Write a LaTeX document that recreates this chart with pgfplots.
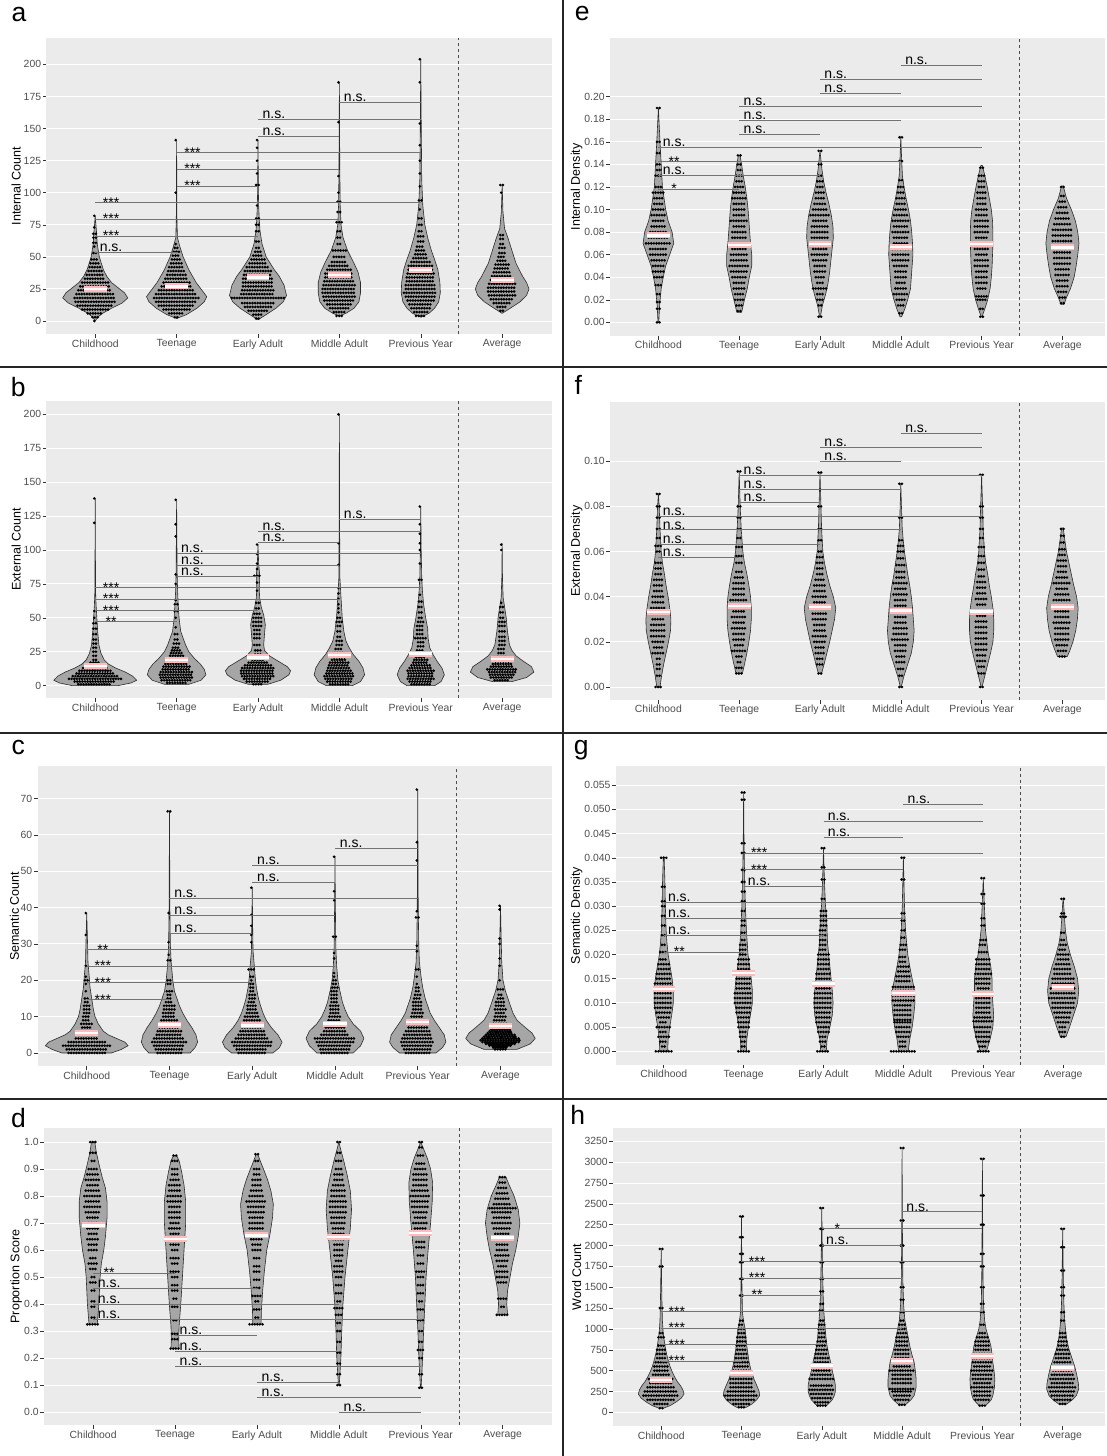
\documentclass[border=0pt]{standalone}
\usepackage{fontspec}
\setmainfont{Liberation Sans}
\usepackage{pgfplots}
\pgfplotsset{compat=1.18}
\definecolor{panelbg}{RGB}{235,235,235}
\definecolor{vfill}{RGB}{166,166,166}
\definecolor{vline}{RGB}{45,45,45}
\definecolor{axgray}{RGB}{77,77,77}
\definecolor{tickgray}{RGB}{51,51,51}
\definecolor{brkc}{RGB}{115,115,115}
\definecolor{meanpink}{RGB}{255,188,188}
\newcommand\tickfont{\fontsize{10.4}{12}\selectfont}
\newcommand\labfont{\fontsize{12.5}{15}\selectfont}
\pgfplotsset{
 gg/.style={scale only axis, anchor=north west, enlargelimits=false,
  axis background/.style={fill=panelbg},
  axis line style={draw=none},
  tick align=outside, major tick length=3.6pt,
  tick style={color=tickgray, line width=0.5pt},
  tick pos=left,
  ymajorgrids, major grid style={white, line width=1.0pt},
  xtick={1,2,3,4,5,6},
  xticklabels={Childhood,Teenage,Early Adult,Middle Adult,Previous Year,Average},
  xticklabel style={font=\tickfont, text=axgray, inner sep=1.5pt},
  yticklabel style={font=\tickfont, text=axgray, inner sep=1.5pt},
  scaled y ticks=false,
  /pgf/number format/assume math mode=true,
  /pgf/number format/1000 sep={},
  every axis y label/.style={rotate=90, anchor=center, font=\labfont, at={(axis description cs:#1,0.5)}}},
 brk/.style={draw=brkc, line width=0.9pt, unbounded coords=jump, forget plot},
 dashln/.style={draw=axgray, line width=0.6pt, dash pattern=on 3pt off 3pt, forget plot},
 vshape/.style={fill=vfill, draw=vline, line width=0.6pt, line join=round, forget plot, mark=none},
 vdots/.style={draw=black, line width=2.9pt, line cap=round, dash pattern=on 0pt off 2.6pt, unbounded coords=jump, forget plot, mark=none},
 vmeanp/.style={draw=meanpink, line width=6pt, forget plot, mark=none},
 vmeanw/.style={draw=white, line width=2.4pt, forget plot, mark=none},
}
\tikzset{nslab/.style={anchor=base, inner sep=0pt, font=\fontsize{14}{16}\selectfont, yshift=0.8pt},
 stlab/.style={anchor=base, inner sep=0pt, font=\fontsize{14}{16}\selectfont, yshift=-4.5pt},
 plab/.style={anchor=base west, inner sep=0pt, font=\fontsize{26.5}{30}\selectfont}}
\newcommand\ns[2]{\node[nslab] at (axis cs:#1,#2) {n.s.};}
\newcommand\st[3]{\node[stlab] at (axis cs:#1,#2) {#3};}
\def\dotscale{1}
% #1 centre, #2 profile y/halfwidth, #3 dot rows y/halfwidth, #4 mean
\newcommand\vio[4]{%
 \gdef\VUp{}\gdef\VDn{}\gdef\VFirst{}%
 \foreach \yy/\ww in {#2}{%
   \pgfmathsetmacro\xr{#1+\ww}\pgfmathsetmacro\xl{#1-\ww}%
   \ifx\VFirst\empty\xdef\VFirst{(\xr,\yy)}\fi
   \xdef\VUp{\VUp(\xr,\yy)}%
   \xdef\VDn{(\xl,\yy)\VDn}%
 }%
 \gdef\VDots{}%
 \foreach \yy/\ee in {#3}{%
   \pgfmathsetmacro\xr{#1+\dotscale*\ee}\pgfmathsetmacro\xl{#1-\dotscale*\ee}%
   \xdef\VDots{\VDots(\xl,\yy)(\xr,\yy)(nan,nan)}%
 }%
 \pgfmathsetmacro\xr{#1+0.14}\pgfmathsetmacro\xl{#1-0.14}%
 \edef\VTmp{%
  \noexpand\addplot[vshape] coordinates {\VUp\VDn\VFirst};
  \noexpand\addplot[vdots] coordinates {\VDots};
  \noexpand\addplot[vmeanp] coordinates {(\xl,#4)(\xr,#4)};
  \noexpand\addplot[vmeanw] coordinates {(\xl,#4)(\xr,#4)};
 }\VTmp
}
\begin{document}
\begin{tikzpicture}
\useasboundingbox (0,0) rectangle (1107pt,-1456pt);
% ================= a
\begin{axis}[gg=-0.060, at={(46.4pt,-37.7pt)}, width=505.4pt, height=296.7pt,
 xmin=0.4, xmax=6.61, ymin=-10.4, ymax=220.8, ytick={0,25,...,200}, ylabel={Internal Count}]
\gdef\dotscale{1.15}
\addplot[dashln] coordinates {(5.46,-10.4) (5.46,220.8)};
\vio{1}{0/0,3/0.03,6/0.09,10/0.2,14/0.33,18/0.40,22/0.36,26/0.28,30/0.2,35/0.14,40/0.1,50/0.05,60/0.025,70/0.015,82/0}{0/0.01,3/0.03,6/0.08,9/0.14,12/0.19,15/0.21,18/0.22,21/0.2,24/0.18,27/0.16,30/0.14,33/0.11,36/0.09,39/0.07,42/0.06,45/0.05,48/0.04,53/0.02,58/0.01,61/0.02,65/0.02,68/0.02,73/0.01,82/0.01}{25}
\vio{2}{2/0,5/0.12,10/0.25,15/0.34,19/0.37,25/0.3,30/0.24,40/0.15,50/0.08,58/0.04,65/0.01,80/0.004,141/0}{3/0.02,6/0.08,9/0.14,12/0.19,15/0.22,18/0.24,21/0.22,24/0.19,27/0.16,30/0.14,33/0.12,36/0.1,39/0.09,42/0.08,45/0.06,48/0.05,51/0.04,54/0.03,57/0.02,60/0.01,100/0.01,141/0.01}{27}
\vio{3}{1/0,5/0.1,10/0.22,15/0.31,20/0.35,28/0.32,35/0.26,40/0.2,50/0.1,60/0.05,70/0.025,80/0.015,90/0.008,100/0.005,141/0}{2/0.02,5/0.05,8/0.1,11/0.14,14/0.17,18/0.28,21/0.18,24/0.17,27/0.16,30/0.16,33/0.16,36/0.15,39/0.14,42/0.12,45/0.09,48/0.07,51/0.05,54/0.03,57/0.02,62/0.02,70/0.02,75/0.02,80/0.02,90/0.01,106/0.02,115/0.01,125/0.01,135/0.01,141/0.01}{34}
\vio{4}{4/0,6/0.08,10/0.18,15/0.24,22/0.26,30/0.26,38/0.23,45/0.18,55/0.1,65/0.045,75/0.02,90/0.01,120/0.005,186/0}{4/0.03,7/0.06,10/0.1,13/0.13,16/0.16,19/0.17,22/0.18,25/0.18,28/0.17,31/0.16,34/0.15,37/0.15,40/0.13,43/0.11,46/0.08,50/0.06,55/0.07,60/0.02,65/0.02,70/0.02,77/0.03,85/0.02,93/0.02,100/0.01,113/0.01,155/0.01,186/0.01}{36}
\vio{5}{3/0,6/0.1,10/0.17,15/0.22,22/0.24,30/0.235,40/0.21,48/0.17,55/0.13,65/0.085,75/0.05,90/0.025,110/0.012,150/0.006,204/0}{4/0.05,7/0.07,10/0.1,13/0.12,16/0.14,19/0.16,22/0.18,25/0.16,28/0.16,31/0.15,34/0.15,37/0.14,40/0.13,43/0.13,46/0.1,49/0.08,52/0.06,55/0.05,58/0.04,62/0.03,66/0.03,70/0.02,75/0.02,80/0.02,87/0.01,94/0.02,105/0.01,115/0.01,125/0.01,137/0.01,154/0.01,186/0.01,204/0.01}{40}
\vio{6}{6/0,10/0.1,15/0.22,20/0.3,25/0.33,30/0.3,35/0.25,45/0.17,55/0.12,65/0.07,72/0.03,85/0.01,106/0}{8/0.02,11/0.05,14/0.09,17/0.12,20/0.14,23/0.15,26/0.15,29/0.14,32/0.12,35/0.11,38/0.09,41/0.08,44/0.07,47/0.05,50/0.04,53/0.03,57/0.03,60/0.02,64/0.02,67/0.02,100/0.01,106/0.02}{32}
\addplot[brk] coordinates {(1,53.2)(2,53.2)(nan,nan)(1,66.2)(3,66.2)(nan,nan)(1,79.2)(4,79.2)(nan,nan)(1,92.2)(5,92.2)(nan,nan)(2,105.2)(3,105.2)(nan,nan)(2,118.2)(4,118.2)(nan,nan)(2,131.2)(5,131.2)(nan,nan)(3,144.2)(4,144.2)(nan,nan)(3,157.1)(5,157.1)(nan,nan)(4,170.1)(5,170.1)};
\ns{1.195}{53.2}\st{1.195}{66.2}{***}\st{1.195}{79.2}{***}\st{1.195}{92.2}{***}
\st{2.195}{105.2}{***}\st{2.195}{118.2}{***}\st{2.195}{131.2}{***}
\ns{3.195}{144.2}\ns{3.195}{157.1}\ns{4.195}{170.1}
\end{axis}
% ================= b
\begin{axis}[gg=-0.060, at={(46.4pt,-400.7pt)}, width=505.4pt, height=297.6pt,
 xmin=0.4, xmax=6.61, ymin=-9.33, ymax=210.07, ytick={0,25,...,200}, ylabel={External Count}]
\gdef\dotscale{1.15}
\addplot[dashln] coordinates {(5.46,-9.33) (5.46,210.07)};
\vio{1}{0/0.28,2/0.44,4/0.51,7/0.46,10/0.37,13/0.25,16/0.16,19/0.11,24/0.07,30/0.045,40/0.03,50/0.02,60/0.01,70/0.004,138/0}{1/0.18,3/0.22,5/0.28,7/0.24,9/0.2,11/0.17,13/0.13,15/0.09,17/0.05,19/0.02,22/0.02,25/0.02,28/0.02,31/0.02,34/0.02,38/0.02,42/0.02,46/0.02,50/0.01,55/0.01,120/0.01,138/0.01}{14.5}
\vio{2}{1/0.15,4/0.3,8/0.36,12/0.34,16/0.29,20/0.22,25/0.15,30/0.11,35/0.08,40/0.05,50/0.03,60/0.02,70/0.012,85/0.006,137/0}{2/0.1,4/0.16,6/0.17,8/0.18,10/0.17,12/0.15,14/0.14,16/0.12,18/0.1,20/0.08,22/0.07,24/0.06,26/0.05,28/0.04,31/0.03,34/0.02,38/0.02,43/0.01,50/0.01,55/0.02,60/0.02,63/0.01,75/0.01,82/0.01,110/0.01,119/0.01,137/0.01}{18.7}
\vio{3}{1/0.12,4/0.28,8/0.38,11/0.4,14/0.36,18/0.25,22/0.14,26/0.08,30/0.07,38/0.08,45/0.09,52/0.07,58/0.04,65/0.02,72/0.015,78/0.02,82/0.02,90/0.008,104/0}{1/0.05,3/0.12,5/0.15,7/0.17,9/0.18,11/0.18,13/0.17,15/0.14,17/0.1,19/0.06,21/0.04,23/0.03,26/0.03,30/0.04,35/0.04,38/0.04,41/0.04,44/0.05,47/0.05,50/0.05,53/0.04,57/0.02,61/0.02,70/0.01,76/0.01,81/0.04,86/0.01,90/0.01,97/0.01,104/0.01}{20.9}
\vio{4}{0/0.16,3/0.26,8/0.31,13/0.29,18/0.24,23/0.17,28/0.12,33/0.08,40/0.055,50/0.035,60/0.025,70/0.015,80/0.006,120/0.003,200/0}{1/0.1,3/0.13,5/0.15,7/0.16,9/0.14,11/0.13,13/0.12,15/0.11,17/0.1,19/0.08,21/0.06,24/0.05,27/0.04,30/0.03,33/0.03,36/0.02,40/0.02,44/0.02,47/0.03,50/0.02,54/0.01,57/0.01,60/0.01,64/0.01,68/0.01,72/0.01,89/0.01,105/0.01,200/0.01}{22.6}
\vio{5}{0/0.17,3/0.25,8/0.29,13/0.26,18/0.2,23/0.15,28/0.11,35/0.09,42/0.085,50/0.06,60/0.035,70/0.02,80/0.012,100/0.005,132/0}{1/0.1,3/0.12,5/0.14,7/0.13,9/0.13,11/0.14,13/0.12,15/0.1,17/0.08,19/0.07,21/0.05,23/0.04,26/0.04,29/0.03,32/0.03,35/0.06,38/0.04,41/0.04,44/0.04,47/0.03,50/0.02,54/0.02,58/0.02,62/0.02,67/0.01,78/0.02,90/0.01,100/0.01,105/0.01,112/0.01,119/0.01,132/0.01}{23.6}
\vio{6}{3/0.12,6/0.3,10/0.39,14/0.36,18/0.26,22/0.17,26/0.12,30/0.09,40/0.065,50/0.05,58/0.03,65/0.012,80/0.004,105/0}{4/0.08,6/0.12,8/0.13,10/0.14,12/0.16,14/0.12,16/0.1,18/0.07,21/0.05,24/0.04,27/0.04,30/0.03,33/0.03,36/0.03,40/0.03,44/0.03,47/0.03,50/0.02,54/0.02,58/0.02,61/0.01,100/0.01,104/0.01}{19.7}
\addplot[brk] coordinates {(1,47.2)(2,47.2)(nan,nan)(1,55.3)(3,55.3)(nan,nan)(1,63.6)(4,63.6)(nan,nan)(1,72.2)(5,72.2)(nan,nan)(2,80.8)(3,80.8)(nan,nan)(2,88.7)(4,88.7)(nan,nan)(2,97.3)(5,97.3)(nan,nan)(3,105.7)(4,105.7)(nan,nan)(3,114)(5,114)(nan,nan)(4,122.6)(5,122.6)};
\st{1.195}{47.2}{**}\st{1.195}{55.3}{***}\st{1.195}{63.6}{***}\st{1.195}{72.2}{***}
\ns{2.195}{80.8}\ns{2.195}{88.7}\ns{2.195}{97.3}
\ns{3.195}{105.7}\ns{3.195}{114}\ns{4.195}{122.6}
\end{axis}
% ================= c
\begin{axis}[gg=-0.045, at={(37.5pt,-766.3pt)}, width=514.3pt, height=300pt,
 xmin=0.405, xmax=6.62, ymin=-3.67, ymax=78.9, ytick={0,10,...,70}, ylabel={Semantic Count}]
\gdef\dotscale{1.1}
\addplot[dashln] coordinates {(5.46,-3.67) (5.46,78.9)};
\vio{1}{0/0.3,1/0.42,2/0.5,3/0.46,4/0.36,5/0.26,6/0.2,8/0.14,10/0.1,12/0.08,15/0.06,18/0.04,21/0.03,25/0.015,30/0.01,38.5/0}{0/0.2,1/0.22,2/0.26,3/0.2,4/0.12,5/0.08,6/0.06,7/0.05,8/0.06,9/0.04,10/0.04,11/0.03,12/0.03,13/0.03,14/0.02,15/0.02,17/0.01,19/0.01,20/0.02,21/0.01,24/0.01,32.5/0.01,38.5/0.01}{5.5}
\vio{2}{0/0.25,1.5/0.31,3/0.34,5/0.32,7/0.27,9/0.21,11/0.16,13/0.12,15/0.09,17/0.06,20/0.04,25/0.02,30/0.01,40/0.005,66.5/0}{0/0.13,1/0.15,2/0.17,3/0.19,4/0.17,5/0.14,6/0.13,7/0.11,8/0.1,9/0.09,10/0.07,11/0.07,12/0.06,13/0.06,14/0.04,15/0.02,16/0.02,17/0.03,19/0.02,20/0.02,25.5/0.02,27/0.01,30.5/0.01,38.5/0.01,66.5/0.02}{7.8}
\vio{3}{0/0.25,1.5/0.33,3/0.36,5/0.31,7/0.23,9/0.17,11/0.13,13/0.1,15/0.075,18/0.05,21/0.035,24/0.025,28/0.01,35/0.005,45.5/0}{0/0.15,1/0.17,2/0.2,3/0.22,4/0.18,5/0.15,6/0.13,7/0.11,8/0.1,9/0.09,10/0.08,11/0.06,12/0.05,13/0.05,14/0.04,15/0.03,16/0.03,17/0.02,18/0.02,19/0.02,20/0.01,21/0.02,23/0.04,30.5/0.01,32.5/0.01,35/0.01,38/0.01,45.5/0.01}{7.6}
\vio{4}{0/0.22,2/0.31,4/0.35,6/0.31,8/0.22,10/0.16,12/0.12,14/0.09,17/0.06,20/0.035,24/0.02,28/0.012,33/0.008,42/0.004,54/0}{0/0.15,1/0.16,2/0.18,3/0.2,4/0.22,5/0.15,6/0.12,7/0.1,8/0.08,9/0.07,10/0.06,11/0.05,12/0.05,13/0.05,14/0.04,15/0.04,16/0.04,17/0.04,18/0.03,19/0.02,20/0.02,21/0.01,22/0.01,26/0.01,27.5/0.01,32/0.02,42/0.01,44.5/0.01,54/0.01}{8.1}
\vio{5}{0/0.22,1.5/0.3,3/0.34,5/0.32,7/0.26,9/0.2,11/0.15,13/0.12,15/0.09,18/0.06,21/0.04,25/0.02,30/0.012,40/0.006,55/0.003,72.5/0}{0/0.13,1/0.15,2/0.17,3/0.18,4/0.17,5/0.15,6/0.13,7/0.1,8/0.09,9/0.08,10/0.07,11/0.06,12/0.05,13/0.05,14/0.05,15/0.04,16/0.03,17/0.02,18/0.02,19/0.01,21/0.01,23/0.02,28/0.01,29.5/0.01,37.3/0.02,39/0.01,53/0.01,58/0.01,72.5/0.01}{8.6}
\vio{6}{1/0.2,2.5/0.36,4/0.42,5.5/0.38,7/0.3,9/0.2,11/0.15,13/0.12,15/0.09,17/0.06,20/0.03,25/0.015,30/0.01,35/0.005,40.5/0}{1/0.06,1.5/0.08,2/0.12,2.5/0.16,3/0.2,3.5/0.22,4/0.2,4.5/0.18,5/0.16,5.5/0.14,6/0.12,6.5/0.1,7/0.09,8/0.08,9/0.07,10/0.06,11/0.05,12/0.06,13/0.05,14/0.05,15/0.03,16/0.02,17.5/0.03,20/0.01,24/0.01,26/0.01,30/0.01,31.5/0.01,39.5/0.01,40.5/0.01}{7.5}
\addplot[brk] coordinates {(1,14.7)(2,14.7)(nan,nan)(1,19.3)(3,19.3)(nan,nan)(1,23.9)(4,23.9)(nan,nan)(1,28.4)(5,28.4)(nan,nan)(2,33)(3,33)(nan,nan)(2,37.8)(4,37.8)(nan,nan)(2,42.5)(5,42.5)(nan,nan)(3,47)(4,47)(nan,nan)(3,51.7)(5,51.7)(nan,nan)(4,56.2)(5,56.2)};
\st{1.195}{14.7}{***}\st{1.195}{19.3}{***}\st{1.195}{23.9}{***}\st{1.195}{28.4}{**}
\ns{2.195}{33}\ns{2.195}{37.8}\ns{2.195}{42.5}
\ns{3.195}{47}\ns{3.195}{51.7}\ns{4.195}{56.2}
\end{axis}
% ================= d
\begin{axis}[gg=-0.055, at={(44pt,-1127.7pt)}, width=507.8pt, height=297.6pt,
 xmin=0.4, xmax=6.6, ymin=-0.049, ymax=1.053, ytick={0,0.1,0.2,0.3,0.4,0.5,0.6,0.7,0.8,0.9,1},
 yticklabel style={/pgf/number format/.cd, fixed, fixed zerofill, precision=1}, ylabel={Proportion Score}]
\gdef\dotscale{1.8}
\addplot[dashln] coordinates {(5.466,-0.049) (5.466,1.053)};
\vio{1}{0.325/0.05,0.4/0.07,0.5/0.085,0.55/0.1,0.6/0.13,0.65/0.15,0.72/0.17,0.78/0.17,0.83/0.15,0.87/0.11,0.92/0.07,0.96/0.04,1.0/0.02}{0.325/0.04,0.35/0.01,0.39/0.01,0.41/0.01,0.45/0.01,0.48/0.02,0.5/0.01,0.53/0.02,0.55/0.03,0.57/0.02,0.6/0.03,0.62/0.03,0.64/0.04,0.66/0.03,0.68/0.04,0.7/0.03,0.72/0.04,0.74/0.05,0.76/0.06,0.78/0.05,0.8/0.06,0.82/0.05,0.84/0.04,0.86/0.05,0.88/0.04,0.9/0.03,0.93/0.01,0.96/0.02,1.0/0.02}{0.691}
\vio{2}{0.235/0.05,0.27/0.045,0.32/0.05,0.4/0.07,0.5/0.09,0.6/0.11,0.7/0.13,0.78/0.13,0.84/0.11,0.89/0.08,0.93/0.05,0.95/0.02}{0.235/0.03,0.27/0.02,0.29/0.02,0.34/0.01,0.39/0.02,0.42/0.01,0.45/0.02,0.47/0.02,0.5/0.02,0.52/0.03,0.55/0.02,0.57/0.03,0.6/0.02,0.62/0.03,0.64/0.03,0.66/0.03,0.68/0.04,0.7/0.03,0.72/0.04,0.74/0.04,0.76/0.04,0.78/0.05,0.8/0.05,0.82/0.04,0.84/0.04,0.86/0.03,0.88/0.02,0.9/0.02,0.93/0.02,0.95/0.01}{0.642}
\vio{3}{0.325/0.05,0.38/0.055,0.45/0.07,0.52/0.09,0.6/0.12,0.66/0.16,0.72/0.19,0.77/0.2,0.82/0.17,0.86/0.13,0.9/0.08,0.93/0.04,0.955/0.01}{0.325/0.05,0.35/0.01,0.38/0.02,0.41/0.01,0.43/0.03,0.46/0.02,0.49/0.02,0.52/0.02,0.54/0.02,0.57/0.02,0.6/0.03,0.62/0.03,0.64/0.04,0.66/0.04,0.68/0.05,0.7/0.05,0.72/0.05,0.74/0.06,0.76/0.06,0.78/0.07,0.8/0.05,0.82/0.04,0.84/0.03,0.86/0.03,0.88/0.02,0.9/0.02,0.93/0.01,0.955/0.01}{0.654}
\vio{4}{0.1/0.005,0.15/0.015,0.2/0.025,0.3/0.035,0.4/0.05,0.5/0.075,0.6/0.11,0.68/0.14,0.75/0.155,0.82/0.14,0.88/0.1,0.93/0.06,0.97/0.025,1.0/0}{0.1/0.01,0.14/0.01,0.18/0.01,0.22/0.01,0.26/0.01,0.3/0.01,0.33/0.01,0.36/0.02,0.385/0.03,0.41/0.01,0.44/0.02,0.47/0.02,0.5/0.02,0.52/0.03,0.54/0.03,0.56/0.02,0.58/0.03,0.6/0.03,0.62/0.03,0.64/0.04,0.66/0.04,0.68/0.04,0.7/0.05,0.72/0.05,0.74/0.06,0.76/0.06,0.78/0.06,0.8/0.05,0.82/0.05,0.84/0.04,0.86/0.03,0.88/0.03,0.9/0.02,0.93/0.02,0.96/0.01,1.0/0.01}{0.648}
\vio{5}{0.09/0.004,0.15/0.015,0.22/0.025,0.3/0.035,0.4/0.05,0.5/0.065,0.6/0.09,0.7/0.12,0.78/0.14,0.85/0.145,0.9/0.12,0.94/0.08,0.97/0.04,1.0/0}{0.09/0.01,0.14/0.01,0.2/0.01,0.23/0.02,0.26/0.01,0.3/0.01,0.34/0.02,0.38/0.02,0.41/0.01,0.44/0.02,0.47/0.02,0.5/0.02,0.52/0.03,0.55/0.02,0.58/0.02,0.61/0.03,0.63/0.03,0.66/0.04,0.68/0.04,0.7/0.05,0.72/0.04,0.74/0.05,0.76/0.06,0.78/0.06,0.8/0.07,0.82/0.06,0.84/0.05,0.86/0.05,0.88/0.05,0.9/0.04,0.92/0.03,0.95/0.02,0.98/0.01,1.0/0.01}{0.664}
\vio{6}{0.36/0.06,0.4/0.05,0.45/0.06,0.5/0.09,0.55/0.12,0.6/0.16,0.65/0.19,0.7/0.21,0.75/0.19,0.8/0.14,0.84/0.08,0.87/0.04}{0.36/0.04,0.39/0.01,0.42/0.03,0.48/0.03,0.5/0.04,0.52/0.04,0.54/0.03,0.56/0.04,0.58/0.05,0.6/0.04,0.62/0.04,0.64/0.05,0.66/0.05,0.68/0.06,0.7/0.07,0.72/0.06,0.74/0.07,0.755/0.09,0.77/0.06,0.79/0.05,0.81/0.04,0.83/0.03,0.85/0.02,0.87/0.02}{0.646}
\addplot[brk] coordinates {(1,0.515)(2,0.515)(nan,nan)(1,0.457)(3,0.457)(nan,nan)(1,0.399)(4,0.399)(nan,nan)(1,0.342)(5,0.342)(nan,nan)(2,0.284)(3,0.284)(nan,nan)(2,0.226)(4,0.226)(nan,nan)(2,0.169)(5,0.169)(nan,nan)(3,0.111)(4,0.111)(nan,nan)(3,0.056)(5,0.056)(nan,nan)(4,0)(5,0)};
\st{1.195}{0.515}{**}\ns{1.195}{0.457}\ns{1.195}{0.399}\ns{1.195}{0.342}
\ns{2.195}{0.284}\ns{2.195}{0.226}\ns{2.195}{0.169}
\ns{3.195}{0.111}\ns{3.195}{0.056}\ns{4.195}{0}
\end{axis}
% ================= e
\begin{axis}[gg=-0.067, at={(609.9pt,-37.7pt)}, width=495.1pt, height=298.3pt,
 xmin=0.4, xmax=6.527, ymin=-0.0121, ymax=0.2523, ytick={0,0.02,0.04,0.06,0.08,0.1,0.12,0.14,0.16,0.18,0.2},
 yticklabel style={/pgf/number format/.cd, fixed, fixed zerofill, precision=2}, ylabel={Internal Density}]
\gdef\dotscale{1.7}
\addplot[dashln] coordinates {(5.464,-0.0121) (5.464,0.2523)};
\vio{1}{0/0.005,0.015/0.015,0.03/0.035,0.04/0.06,0.05/0.09,0.06/0.14,0.07/0.19,0.08/0.17,0.09/0.12,0.1/0.09,0.11/0.07,0.12/0.05,0.14/0.035,0.16/0.02,0.19/0}{0/0.01,0.012/0.01,0.018/0.01,0.025/0.01,0.033/0.02,0.04/0.03,0.045/0.04,0.05/0.04,0.055/0.05,0.06/0.06,0.065/0.06,0.07/0.09,0.075/0.07,0.08/0.06,0.085/0.05,0.09/0.04,0.095/0.05,0.1/0.04,0.105/0.03,0.11/0.03,0.115/0.04,0.12/0.02,0.13/0.02,0.135/0.01,0.14/0.01,0.15/0.01,0.16/0.01,0.19/0.01}{0.0771}
\vio{2}{0.009/0.03,0.02/0.065,0.03/0.1,0.04/0.125,0.05/0.155,0.06/0.155,0.07/0.14,0.08/0.13,0.09/0.12,0.1/0.11,0.11/0.095,0.12/0.075,0.13/0.05,0.14/0.03,0.148/0.01}{0.01/0.01,0.015/0.02,0.02/0.03,0.025/0.03,0.03/0.04,0.035/0.04,0.04/0.05,0.045/0.06,0.05/0.07,0.055/0.06,0.06/0.06,0.065/0.05,0.07/0.06,0.075/0.05,0.08/0.05,0.085/0.04,0.09/0.06,0.095/0.04,0.1/0.04,0.105/0.04,0.11/0.05,0.115/0.04,0.12/0.03,0.125/0.02,0.13/0.02,0.135/0.01,0.14/0.01,0.148/0.01}{0.0685}
\vio{3}{0.005/0.005,0.015/0.03,0.025/0.07,0.035/0.1,0.045/0.12,0.055/0.135,0.065/0.15,0.075/0.165,0.085/0.16,0.095/0.14,0.105/0.11,0.115/0.075,0.125/0.045,0.135/0.025,0.152/0}{0.005/0.01,0.015/0.01,0.02/0.02,0.025/0.02,0.03/0.05,0.035/0.02,0.04/0.03,0.045/0.04,0.05/0.04,0.055/0.05,0.06/0.06,0.065/0.05,0.07/0.05,0.075/0.06,0.08/0.06,0.085/0.06,0.09/0.05,0.095/0.07,0.1/0.05,0.105/0.04,0.11/0.03,0.115/0.03,0.12/0.02,0.125/0.02,0.13/0.01,0.14/0.01,0.152/0.01}{0.0697}
\vio{4}{0.005/0.01,0.012/0.05,0.02/0.085,0.03/0.12,0.04/0.13,0.05/0.14,0.06/0.15,0.07/0.145,0.08/0.135,0.09/0.12,0.1/0.095,0.11/0.065,0.12/0.04,0.13/0.02,0.145/0.01,0.165/0}{0.008/0.01,0.015/0.02,0.02/0.03,0.025/0.05,0.03/0.04,0.035/0.03,0.04/0.04,0.045/0.04,0.05/0.05,0.055/0.06,0.06/0.06,0.065/0.06,0.07/0.05,0.075/0.05,0.08/0.06,0.085/0.05,0.09/0.06,0.095/0.05,0.1/0.04,0.105/0.03,0.11/0.03,0.115/0.02,0.12/0.02,0.126/0.01,0.143/0.01,0.164/0.01}{0.067}
\vio{5}{0.005/0.005,0.012/0.04,0.02/0.075,0.03/0.105,0.04/0.12,0.05/0.13,0.06/0.135,0.07/0.14,0.08/0.14,0.09/0.135,0.1/0.12,0.11/0.095,0.12/0.07,0.13/0.04,0.139/0.01}{0.005/0.01,0.012/0.01,0.02/0.03,0.023/0.04,0.03/0.03,0.035/0.04,0.04/0.04,0.045/0.04,0.05/0.05,0.055/0.05,0.06/0.04,0.065/0.05,0.07/0.05,0.075/0.04,0.08/0.05,0.085/0.05,0.09/0.05,0.095/0.04,0.1/0.04,0.105/0.03,0.11/0.03,0.115/0.03,0.12/0.02,0.125/0.02,0.13/0.02,0.137/0.01}{0.0694}
\vio{6}{0.016/0.02,0.022/0.05,0.03/0.1,0.04/0.145,0.05/0.17,0.06/0.19,0.07/0.205,0.08/0.19,0.09/0.16,0.1/0.11,0.11/0.05,0.121/0.01}{0.017/0.01,0.022/0.02,0.027/0.03,0.032/0.04,0.037/0.04,0.042/0.05,0.047/0.05,0.052/0.06,0.057/0.06,0.062/0.06,0.067/0.07,0.072/0.07,0.077/0.07,0.082/0.07,0.087/0.06,0.092/0.05,0.097/0.04,0.102/0.03,0.107/0.02,0.112/0.01,0.12/0.01}{0.0665}
\addplot[brk] coordinates {(1,0.1182)(2,0.1182)(nan,nan)(1,0.1306)(3,0.1306)(nan,nan)(1,0.1424)(4,0.1424)(nan,nan)(1,0.1548)(5,0.1548)(nan,nan)(2,0.1669)(3,0.1669)(nan,nan)(2,0.179)(4,0.179)(nan,nan)(2,0.1911)(5,0.1911)(nan,nan)(3,0.203)(4,0.203)(nan,nan)(3,0.2154)(5,0.2154)(nan,nan)(4,0.2275)(5,0.2275)};
\st{1.195}{0.1182}{*}\ns{1.195}{0.1306}\st{1.195}{0.1424}{**}\ns{1.195}{0.1548}
\ns{2.195}{0.1669}\ns{2.195}{0.179}\ns{2.195}{0.1911}
\ns{3.195}{0.203}\ns{3.195}{0.2154}\ns{4.195}{0.2275}
\end{axis}
% ================= f
\begin{axis}[gg=-0.067, at={(609.9pt,-402.3pt)}, width=495.1pt, height=297.7pt,
 xmin=0.4, xmax=6.527, ymin=-0.00576, ymax=0.1261, ytick={0,0.02,0.04,0.06,0.08,0.1},
 yticklabel style={/pgf/number format/.cd, fixed, fixed zerofill, precision=2}, ylabel={External Density}]
\gdef\dotscale{1.8}
\addplot[dashln] coordinates {(5.464,-0.00576) (5.464,0.1261)};
\vio{1}{0/0.02,0.005/0.04,0.01/0.065,0.015/0.095,0.02/0.125,0.025/0.15,0.03/0.155,0.035/0.14,0.04/0.12,0.045/0.095,0.05/0.075,0.055/0.05,0.06/0.035,0.07/0.02,0.08/0.01,0.0855/0}{0/0.02,0.005/0.01,0.008/0.01,0.01/0.01,0.0125/0.01,0.015/0.04,0.0175/0.03,0.02/0.04,0.0225/0.05,0.025/0.05,0.0275/0.05,0.03/0.04,0.0325/0.04,0.035/0.05,0.0375/0.04,0.04/0.04,0.0425/0.03,0.045/0.03,0.0475/0.03,0.05/0.02,0.0525/0.02,0.055/0.02,0.06/0.01,0.0625/0.02,0.066/0.01,0.07/0.01,0.075/0.01,0.08/0.01,0.0855/0.01}{0.0331}
\vio{2}{0.006/0.04,0.01/0.065,0.015/0.095,0.02/0.12,0.025/0.14,0.03/0.15,0.035/0.15,0.04/0.14,0.045/0.12,0.05/0.095,0.055/0.065,0.06/0.045,0.07/0.025,0.08/0.012,0.0955/0}{0.006/0.02,0.0085/0.02,0.011/0.01,0.0135/0.02,0.016/0.05,0.0185/0.03,0.021/0.04,0.0235/0.04,0.026/0.05,0.0285/0.04,0.031/0.05,0.0335/0.04,0.036/0.05,0.0385/0.06,0.041/0.04,0.0435/0.04,0.046/0.04,0.0485/0.03,0.051/0.02,0.055/0.02,0.058/0.02,0.062/0.02,0.066/0.01,0.07/0.01,0.075/0.01,0.08/0.01,0.0955/0.01}{0.0359}
\vio{3}{0.006/0.02,0.01/0.05,0.015/0.085,0.02/0.12,0.025/0.15,0.03/0.18,0.035/0.195,0.04/0.165,0.045/0.12,0.05/0.085,0.055/0.055,0.06/0.035,0.07/0.02,0.08/0.012,0.095/0}{0.006/0.01,0.01/0.02,0.0125/0.02,0.015/0.03,0.0175/0.03,0.02/0.04,0.0225/0.05,0.025/0.04,0.0275/0.04,0.03/0.05,0.0325/0.05,0.035/0.07,0.0375/0.04,0.04/0.05,0.0425/0.04,0.045/0.04,0.0475/0.03,0.05/0.02,0.0525/0.02,0.055/0.02,0.0575/0.02,0.06/0.01,0.065/0.01,0.07/0.01,0.08/0.01,0.095/0.01}{0.0355}
\vio{4}{0/0.005,0.005/0.04,0.01/0.085,0.015/0.13,0.02/0.155,0.025/0.165,0.03/0.155,0.035/0.145,0.04/0.13,0.045/0.11,0.05/0.085,0.055/0.065,0.06/0.045,0.065/0.03,0.07/0.018,0.08/0.008,0.09/0}{0/0.01,0.005/0.01,0.008/0.02,0.011/0.03,0.0135/0.03,0.016/0.04,0.0185/0.04,0.021/0.06,0.0235/0.05,0.026/0.05,0.0285/0.04,0.031/0.04,0.0335/0.04,0.036/0.04,0.0385/0.04,0.041/0.05,0.0435/0.04,0.046/0.05,0.0485/0.03,0.051/0.03,0.054/0.03,0.057/0.02,0.06/0.02,0.0625/0.02,0.065/0.01,0.075/0.01,0.09/0.01}{0.0338}
\vio{5}{0/0.005,0.005/0.04,0.01/0.075,0.015/0.11,0.02/0.14,0.025/0.15,0.03/0.15,0.035/0.14,0.04/0.12,0.045/0.095,0.05/0.075,0.055/0.05,0.06/0.035,0.07/0.02,0.08/0.012,0.094/0}{0/0.01,0.006/0.02,0.009/0.02,0.0115/0.03,0.014/0.03,0.0165/0.04,0.019/0.04,0.0215/0.04,0.024/0.04,0.0265/0.04,0.029/0.04,0.0315/0.03,0.034/0.04,0.0365/0.03,0.039/0.04,0.0415/0.03,0.044/0.03,0.0465/0.03,0.049/0.02,0.052/0.02,0.055/0.02,0.058/0.02,0.062/0.02,0.066/0.01,0.07/0.01,0.075/0.01,0.08/0.01,0.094/0.01}{0.0334}
\vio{6}{0.0135/0.06,0.016/0.09,0.02/0.13,0.025/0.165,0.03/0.185,0.035/0.195,0.04/0.175,0.045/0.14,0.05/0.11,0.055/0.08,0.06/0.05,0.065/0.03,0.0705/0.01}{0.0135/0.02,0.016/0.03,0.0185/0.04,0.021/0.05,0.0235/0.05,0.026/0.05,0.0285/0.06,0.031/0.05,0.0335/0.05,0.036/0.05,0.0385/0.06,0.041/0.05,0.0435/0.04,0.046/0.06,0.0485/0.04,0.051/0.03,0.0535/0.03,0.056/0.03,0.0585/0.02,0.061/0.02,0.064/0.01,0.067/0.01,0.07/0.01}{0.0355}
\addplot[brk] coordinates {(1,0.0573)(2,0.0573)(nan,nan)(1,0.0632)(3,0.0632)(nan,nan)(1,0.0696)(4,0.0696)(nan,nan)(1,0.0755)(5,0.0755)(nan,nan)(2,0.0818)(3,0.0818)(nan,nan)(2,0.0877)(4,0.0877)(nan,nan)(2,0.0939)(5,0.0939)(nan,nan)(3,0.1001)(4,0.1001)(nan,nan)(3,0.1062)(5,0.1062)(nan,nan)(4,0.1124)(5,0.1124)};
\ns{1.195}{0.0573}\ns{1.195}{0.0632}\ns{1.195}{0.0696}\ns{1.195}{0.0755}
\ns{2.195}{0.0818}\ns{2.195}{0.0877}\ns{2.195}{0.0939}
\ns{3.195}{0.1001}\ns{3.195}{0.1062}\ns{4.195}{0.1124}
\end{axis}
% ================= g
\begin{axis}[gg=-0.080, at={(615.8pt,-766.3pt)}, width=489.2pt, height=298.4pt,
 xmin=0.4, xmax=6.524, ymin=-0.00277, ymax=0.0589, ytick={0,0.005,0.01,0.015,0.02,0.025,0.03,0.035,0.04,0.045,0.05,0.055},
 yticklabel style={/pgf/number format/.cd, fixed, fixed zerofill, precision=3}, ylabel={Semantic Density}]
\gdef\dotscale{2.2}
\addplot[dashln] coordinates {(5.467,-0.00277) (5.467,0.0589)};
\vio{1}{0/0.05,0.0025/0.055,0.005/0.075,0.0075/0.1,0.01/0.12,0.0125/0.12,0.015/0.105,0.0175/0.08,0.02/0.055,0.0225/0.04,0.025/0.03,0.03/0.02,0.035/0.015,0.0402/0.005}{0/0.045,0.001/0.01,0.002/0.02,0.003/0.03,0.004/0.02,0.005/0.04,0.006/0.02,0.007/0.03,0.008/0.04,0.009/0.05,0.01/0.05,0.011/0.05,0.012/0.05,0.013/0.04,0.014/0.05,0.015/0.04,0.016/0.04,0.017/0.03,0.018/0.03,0.019/0.02,0.0205/0.02,0.022/0.01,0.024/0.01,0.026/0.01,0.028/0.01,0.03/0.01,0.031/0.01,0.034/0.01,0.04/0.015}{0.0129}
\vio{2}{0/0.035,0.0025/0.04,0.005/0.06,0.0075/0.085,0.01/0.11,0.0125/0.11,0.015/0.095,0.0175/0.075,0.02/0.055,0.025/0.035,0.03/0.022,0.035/0.014,0.04/0.008,0.045/0.004,0.0535/0}{0/0.03,0.001/0.01,0.002/0.01,0.003/0.02,0.004/0.02,0.005/0.03,0.006/0.03,0.007/0.03,0.008/0.04,0.009/0.04,0.01/0.05,0.011/0.05,0.012/0.05,0.013/0.04,0.014/0.04,0.015/0.04,0.016/0.04,0.017/0.03,0.018/0.03,0.019/0.03,0.02/0.02,0.021/0.02,0.022/0.02,0.023/0.01,0.0245/0.01,0.026/0.01,0.027/0.01,0.029/0.01,0.031/0.01,0.033/0.01,0.035/0.01,0.0375/0.01,0.041/0.01,0.043/0.01,0.052/0.01,0.0535/0.01}{0.0162}
\vio{3}{0/0.035,0.0025/0.045,0.005/0.08,0.0075/0.11,0.01/0.12,0.0125/0.11,0.015/0.095,0.0175/0.08,0.02/0.065,0.0225/0.05,0.025/0.045,0.0275/0.04,0.03/0.025,0.035/0.012,0.042/0}{0/0.035,0.001/0.01,0.002/0.02,0.003/0.02,0.004/0.03,0.005/0.03,0.006/0.04,0.007/0.04,0.008/0.04,0.009/0.05,0.01/0.05,0.011/0.05,0.012/0.05,0.013/0.04,0.014/0.04,0.015/0.04,0.016/0.04,0.017/0.03,0.018/0.03,0.019/0.03,0.02/0.03,0.021/0.02,0.022/0.02,0.023/0.02,0.024/0.02,0.025/0.02,0.026/0.015,0.027/0.015,0.028/0.015,0.029/0.015,0.0315/0.01,0.0355/0.01,0.038/0.01,0.042/0.01}{0.014}
\vio{4}{0/0.06,0.0025/0.08,0.005/0.11,0.0075/0.13,0.01/0.145,0.0125/0.14,0.015/0.11,0.0175/0.08,0.02/0.055,0.0225/0.04,0.025/0.027,0.03/0.014,0.035/0.007,0.0402/0}{0/0.07,0.001/0.02,0.002/0.02,0.003/0.03,0.004/0.04,0.005/0.04,0.006/0.05,0.0065/0.05,0.0075/0.05,0.0085/0.05,0.0095/0.05,0.0105/0.06,0.0115/0.06,0.0125/0.06,0.0133/0.06,0.0145/0.04,0.0155/0.04,0.0165/0.03,0.0175/0.03,0.0185/0.02,0.0195/0.02,0.021/0.02,0.022/0.015,0.0235/0.01,0.025/0.01,0.027/0.01,0.0285/0.01,0.0355/0.01,0.04/0.01}{0.0121}
\vio{5}{0/0.04,0.0025/0.085,0.005/0.12,0.0075/0.13,0.01/0.12,0.0125/0.11,0.015/0.11,0.0175/0.095,0.02/0.065,0.0225/0.045,0.025/0.028,0.03/0.014,0.0358/0}{0/0.03,0.001/0.02,0.002/0.03,0.003/0.04,0.004/0.04,0.005/0.05,0.0062/0.055,0.007/0.05,0.008/0.04,0.009/0.04,0.01/0.04,0.011/0.04,0.012/0.04,0.013/0.03,0.014/0.04,0.015/0.04,0.016/0.045,0.017/0.04,0.018/0.04,0.019/0.04,0.0205/0.025,0.022/0.02,0.023/0.015,0.026/0.01,0.0275/0.01,0.0305/0.01,0.0325/0.01,0.0358/0.01}{0.0119}
\vio{6}{0.003/0.035,0.005/0.08,0.0075/0.13,0.01/0.18,0.0125/0.195,0.015/0.18,0.0175/0.14,0.02/0.09,0.0225/0.05,0.025/0.028,0.0275/0.017,0.03/0.008,0.0318/0}{0.003/0.01,0.004/0.02,0.005/0.02,0.006/0.03,0.007/0.04,0.008/0.05,0.009/0.06,0.01/0.06,0.011/0.08,0.012/0.07,0.013/0.07,0.014/0.06,0.015/0.06,0.016/0.05,0.017/0.05,0.018/0.04,0.019/0.03,0.02/0.03,0.021/0.02,0.022/0.015,0.023/0.01,0.0245/0.01,0.0278/0.015,0.0285/0.01,0.0315/0.01}{0.0133}
\addplot[brk] coordinates {(1,0.0205)(2,0.0205)(nan,nan)(1,0.024)(3,0.024)(nan,nan)(1,0.0274)(4,0.0274)(nan,nan)(1,0.0307)(5,0.0307)(nan,nan)(2,0.0341)(3,0.0341)(nan,nan)(2,0.0375)(4,0.0375)(nan,nan)(2,0.0409)(5,0.0409)(nan,nan)(3,0.0442)(4,0.0442)(nan,nan)(3,0.0476)(5,0.0476)(nan,nan)(4,0.051)(5,0.051)};
\st{1.195}{0.0205}{**}\ns{1.195}{0.024}\ns{1.195}{0.0274}\ns{1.195}{0.0307}
\ns{2.195}{0.0341}\st{2.195}{0.0375}{***}\st{2.195}{0.0409}{***}
\ns{3.195}{0.0442}\ns{3.195}{0.0476}\ns{4.195}{0.051}
\end{axis}
% ================= h
\begin{axis}[gg=-0.074, at={(613pt,-1127.7pt)}, width=492pt, height=298.6pt,
 xmin=0.4, xmax=6.527, ymin=-168, ymax=3413, ytick={0,250,...,3250}, ylabel={Word Count}]
\gdef\dotscale{1.7}
\addplot[dashln] coordinates {(5.466,-168) (5.466,3413)};
\vio{1}{50/0.03,80/0.11,120/0.18,170/0.25,220/0.285,270/0.27,320/0.24,370/0.2,420/0.17,480/0.14,550/0.11,650/0.08,750/0.055,850/0.04,950/0.025,1100/0.015,1300/0.01,1600/0.005,1960/0}{50/0.01,100/0.05,150/0.1,200/0.13,250/0.12,300/0.1,350/0.08,400/0.09,450/0.06,500/0.05,550/0.05,600/0.04,650/0.03,700/0.03,750/0.03,800/0.02,900/0.02,950/0.01,1250/0.01,1750/0.01,1960/0.01}{384}
\vio{2}{60/0.06,100/0.13,150/0.19,200/0.225,250/0.22,300/0.2,400/0.155,500/0.12,600/0.095,700/0.08,800/0.065,900/0.055,1000/0.045,1100/0.025,1200/0.012,1500/0.006,2350/0}{60/0.02,100/0.06,150/0.1,200/0.12,250/0.1,300/0.08,350/0.08,400/0.08,450/0.07,500/0.06,550/0.05,600/0.05,650/0.04,700/0.04,750/0.03,800/0.035,850/0.03,900/0.03,950/0.02,1000/0.02,1050/0.015,1100/0.01,1400/0.01,1600/0.01,1800/0.01,1900/0.01,2100/0.01,2350/0.01}{472}
\vio{3}{80/0.06,150/0.13,200/0.155,250/0.17,320/0.17,400/0.155,500/0.13,600/0.11,700/0.085,800/0.065,900/0.052,1000/0.043,1200/0.026,1400/0.017,1800/0.008,2450/0}{80/0.03,120/0.05,170/0.07,220/0.08,270/0.09,320/0.08,400/0.09,450/0.07,500/0.06,550/0.06,600/0.05,650/0.05,700/0.045,750/0.04,800/0.035,850/0.03,900/0.02,950/0.02,1000/0.025,1050/0.02,1100/0.01,1220/0.015,1300/0.01,1450/0.01,1600/0.01,1800/0.01,2000/0.01,2200/0.01,2450/0.01}{560}
\vio{4}{90/0.04,150/0.11,200/0.15,300/0.175,400/0.175,500/0.165,600/0.15,700/0.12,800/0.095,900/0.075,1000/0.055,1100/0.035,1300/0.018,1600/0.009,2200/0.004,3170/0}{90/0.02,150/0.05,200/0.06,250/0.07,280/0.09,350/0.07,400/0.07,450/0.07,500/0.09,550/0.06,600/0.06,650/0.05,700/0.05,750/0.05,800/0.04,850/0.04,900/0.04,950/0.03,1000/0.02,1050/0.02,1100/0.01,1200/0.01,1350/0.01,1500/0.01,1800/0.01,2000/0.01,2300/0.01,3170/0.01}{616}
\vio{5}{80/0.04,150/0.11,200/0.13,300/0.15,400/0.155,500/0.145,600/0.13,700/0.12,800/0.105,900/0.075,1000/0.045,1100/0.028,1300/0.014,1600/0.008,2200/0.004,3040/0}{80/0.02,150/0.05,200/0.06,250/0.06,300/0.08,350/0.06,400/0.07,450/0.07,500/0.08,550/0.06,600/0.07,650/0.06,700/0.06,750/0.05,800/0.05,850/0.05,900/0.04,950/0.02,1050/0.01,1200/0.01,1300/0.01,1500/0.01,1750/0.01,1900/0.01,2250/0.01,2600/0.01,3040/0.01}{672}
\vio{6}{100/0.05,150/0.12,200/0.17,280/0.2,350/0.195,450/0.175,550/0.15,650/0.115,750/0.08,850/0.055,950/0.04,1100/0.025,1300/0.015,1600/0.008,2200/0}{100/0.02,150/0.06,200/0.08,250/0.09,300/0.1,350/0.08,400/0.09,450/0.08,500/0.07,550/0.06,600/0.06,650/0.05,700/0.05,750/0.04,800/0.03,850/0.03,900/0.02,950/0.02,1100/0.01,1200/0.01,1400/0.01,1500/0.01,1700/0.01,1980/0.01,2200/0.01}{536}
\addplot[brk] coordinates {(1,612)(2,612)(nan,nan)(1,812)(3,812)(nan,nan)(1,1011)(4,1011)(nan,nan)(1,1207)(5,1207)(nan,nan)(2,1407)(3,1407)(nan,nan)(2,1607)(4,1607)(nan,nan)(2,1807)(5,1807)(nan,nan)(3,2007)(4,2007)(nan,nan)(3,2203)(5,2203)(nan,nan)(4,2403)(5,2403)};
\st{1.195}{612}{***}\st{1.195}{812}{***}\st{1.195}{1011}{***}\st{1.195}{1207}{***}
\st{2.195}{1407}{**}\st{2.195}{1607}{***}\st{2.195}{1807}{***}
\ns{3.195}{2007}\st{3.195}{2203}{*}\ns{4.195}{2403}
\end{axis}
% ================= frame and letters
\draw[line width=2pt, color=black!85] (562.5pt,0pt) -- (562.5pt,-1456pt);
\draw[line width=2.5pt, color=black!85] (0pt,-367pt) -- (1107pt,-367pt);
\draw[line width=2.5pt, color=black!85] (0pt,-733pt) -- (1107pt,-733pt);
\draw[line width=2.5pt, color=black!85] (0pt,-1099pt) -- (1107pt,-1099pt);
\node[plab] at (11.5pt,-21.7pt) {a};
\node[plab] at (10.7pt,-396.7pt) {b};
\node[plab] at (11.5pt,-754.7pt) {c};
\node[plab] at (11pt,-1127pt) {d};
\node[plab] at (574.7pt,-20pt) {e};
\node[plab] at (574.3pt,-394pt) {f};
\node[plab] at (573.6pt,-754pt) {g};
\node[plab] at (570.2pt,-1124pt) {h};
\end{tikzpicture}
\end{document}
